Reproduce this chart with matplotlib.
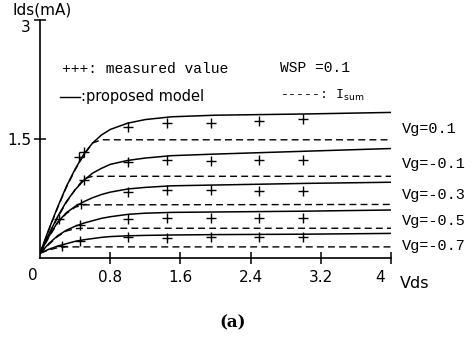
import matplotlib
matplotlib.use("Agg")
import matplotlib.pyplot as plt
from matplotlib.lines import Line2D
from matplotlib.transforms import ScaledTranslation

# Vds grid (V) for the proposed-model curves
vds_model = [0, 0.1, 0.2, 0.3, 0.4, 0.5, 0.6, 0.7, 0.8, 1.0, 1.2, 1.5, 2.0, 3.0, 4.0]
# proposed model Ids (mA)
model_p01 = [0.06, 0.36, 0.64, 0.90, 1.12, 1.31, 1.45, 1.55, 1.62, 1.70, 1.745, 1.78, 1.80, 1.815, 1.835]
model_m01 = [0.06, 0.30, 0.52, 0.71, 0.86, 0.98, 1.07, 1.13, 1.18, 1.23, 1.26, 1.29, 1.31, 1.345, 1.38]
model_m03 = [0.06, 0.27, 0.45, 0.57, 0.65, 0.71, 0.76, 0.80, 0.83, 0.87, 0.89, 0.91, 0.92, 0.94, 0.955]
model_m05 = [0.06, 0.18, 0.28, 0.35, 0.40, 0.44, 0.47, 0.50, 0.52, 0.55, 0.565, 0.575, 0.58, 0.59, 0.605]
model_m07 = [0.06, 0.11, 0.15, 0.18, 0.21, 0.23, 0.245, 0.26, 0.27, 0.28, 0.285, 0.29, 0.295, 0.30, 0.31]

# Isum curves (dashed)
vds_sum = [0, 0.1, 0.2, 0.3, 0.4, 0.5, 0.6, 0.7, 4.0]
sum_p01 = [0.06, 0.35, 0.63, 0.89, 1.11, 1.30, 1.45, 1.49, 1.49]
sum_m01 = [0.06, 0.29, 0.51, 0.70, 0.86, 1.00, 1.03, 1.03, 1.03]
sum_m03 = [0.06, 0.26, 0.44, 0.56, 0.64, 0.67, 0.67, 0.67, 0.675]
sum_m05 = [0.06, 0.17, 0.27, 0.34, 0.37, 0.375, 0.375, 0.375, 0.375]
sum_m07 = [0.06, 0.10, 0.13, 0.14, 0.14, 0.14, 0.14, 0.14, 0.14]

# measured values (+)
meas_x_p01 = [0.45, 0.50, 1.0, 1.45, 1.95, 2.5, 3.0]
meas_y_p01 = [1.27, 1.33, 1.65, 1.70, 1.70, 1.73, 1.75]
meas_x_m01 = [0.50, 1.0, 1.45, 1.95, 2.5, 3.0]
meas_y_m01 = [0.98, 1.21, 1.24, 1.22, 1.23, 1.24]
meas_x_m03 = [0.22, 0.47, 1.0, 1.45, 1.95, 2.5, 3.0]
meas_y_m03 = [0.49, 0.68, 0.83, 0.86, 0.86, 0.85, 0.85]
meas_x_m05 = [0.46, 1.0, 1.45, 1.95, 2.5, 3.0]
meas_y_m05 = [0.42, 0.49, 0.50, 0.50, 0.50, 0.50]
meas_x_m07 = [0.25, 0.46, 1.0, 1.45, 1.95, 2.5, 3.0]
meas_y_m07 = [0.15, 0.21, 0.26, 0.25, 0.26, 0.26, 0.26]

vg_labels = ["Vg=0.1", "Vg=-0.1", "Vg=-0.3", "Vg=-0.5", "Vg=-0.7"]
vg_label_y = [1.63, 1.185, 0.80, 0.47, 0.15]

xticks = [0.8, 1.6, 2.4, 3.2, 4]
xticklabels = ["0.8", "1.6", "2.4", "3.2", "4"]
yticks = [1.5, 3]
yticklabels = ["1.5", "3"]

W, H = 477, 337
fig = plt.figure(figsize=(W / 100, H / 100), dpi=100)
ax = fig.add_axes([40 / W, 1 - 258 / H, 351 / W, 238 / H])

mono = ["Liberation Mono", "DejaVu Sans Mono"]

def fx(x):
    return x / W

def fy(y):
    return 1 - y / H

for ys in [model_p01, model_m01, model_m03, model_m05, model_m07]:
    ax.plot(vds_model, ys, color="black", lw=1.1)
for ys in [sum_p01, sum_m01, sum_m03, sum_m05, sum_m07]:
    ax.plot(vds_sum, ys, color="black", lw=1.0, dashes=(5, 3))
for mx, my in [(meas_x_p01, meas_y_p01), (meas_x_m01, meas_y_m01),
               (meas_x_m03, meas_y_m03), (meas_x_m05, meas_y_m05),
               (meas_x_m07, meas_y_m07)]:
    ax.plot(mx, my, ls="none", marker="+", ms=6.5, mew=1.0, color="black")

for lab, y in zip(vg_labels, vg_label_y):
    ax.text(4.13, y, lab, fontsize=11, family=mono, va="center", ha="left",
            clip_on=False)

ax.set_xlim(0, 4)
ax.set_ylim(0, 3)
ax.spines["top"].set_visible(False)
ax.spines["right"].set_visible(False)
for s in ["left", "bottom"]:
    ax.spines[s].set_linewidth(1.2)
ax.set_xticks(xticks)
ax.set_xticklabels(xticklabels, fontsize=11)
ax.set_yticks(yticks)
ax.set_yticklabels(yticklabels, fontsize=11)
ax.tick_params(axis="both", direction="inout", length=9, width=1.1)
ax.tick_params(axis="x", pad=4)
ax.tick_params(axis="y", pad=2)
ax.patch.set_visible(False)

# shift the "4" label left of its tick, and the "3" label a bit down
lbl4 = ax.get_xticklabels()[-1]
lbl4.set_transform(lbl4.get_transform() + ScaledTranslation(-8 / 72, 0, fig.dpi_scale_trans))
lbl3 = ax.get_yticklabels()[-1]
lbl3.set_transform(lbl3.get_transform() + ScaledTranslation(0, -4 / 72, fig.dpi_scale_trans))

fig.text(fx(33), fy(275), "0", fontsize=11, ha="center", va="center")
fig.text(fx(13), fy(10), "Ids(mA)", fontsize=11, ha="left", va="center")
fig.text(fx(400), fy(284), "Vds", fontsize=11.5, ha="left", va="center")
fig.text(fx(233), fy(323), "(a)", fontsize=12, family="DejaVu Serif",
         weight="bold", ha="center", va="center")

# legend block
fig.text(fx(62), fy(69), "+++: measured value", fontsize=10.5, family=mono,
         ha="left", va="center")
fig.text(fx(280), fy(68), "WSP =0.1", fontsize=10.5, family=mono,
         ha="left", va="center")
fig.add_artist(Line2D([fx(60), fx(80)], [fy(97), fy(97)], color="black",
                      lw=1.0, transform=fig.transFigure))
fig.text(fx(81), fy(96), ":proposed model", fontsize=10.5, ha="left", va="center")
fig.text(fx(280), fy(95), "-----: I$_{\\mathrm{sum}}$", fontsize=9.5,
         family=mono, ha="left", va="center")

fig.savefig("out.png", dpi=100)
